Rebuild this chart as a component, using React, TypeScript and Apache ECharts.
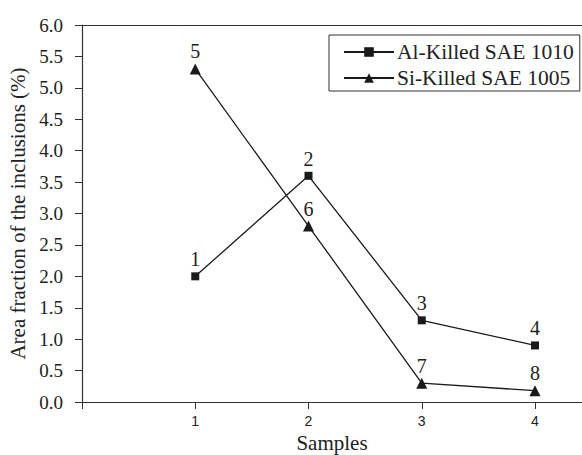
import React, { useEffect, useRef } from "react";
import * as echarts from "echarts";

const samples = [1, 2, 3, 4];
const alKilled = [2.0, 3.6, 1.3, 0.9];
const siKilled = [5.3, 2.8, 0.3, 0.18];
const alLabels = ["1", "2", "3", "4"];
const siLabels = ["5", "6", "7", "8"];
const xTicks = [0, 1, 2, 3, 4];
const xTickLabels = [1, 2, 3, 4];

const SERIF = "'Liberation Serif', 'Times New Roman', serif";
const SANS = "'Liberation Sans', Arial, sans-serif";
const INK = "#1a1a1a";

export default function App() {
  const ref = useRef<HTMLDivElement>(null);
  useEffect(() => {
    if (!ref.current) return;
    const chart = echarts.init(ref.current, undefined, { renderer: "svg" });
    const mk = (vals: number[], labels: string[]) =>
      samples.map((s, i) => ({ value: [s, vals[i]], label: { formatter: labels[i] } }));
    chart.setOption({
      animation: false,
      backgroundColor: "#ffffff",
      grid: { left: 82, right: 0, top: 25, bottom: 53, outerBoundsMode: "none", containLabel: false },
      legend: {
        orient: "vertical",
        left: 329,
        top: 35,
        width: 250,
        padding: [6, 6, 2, 14],
        itemGap: 4,
        itemWidth: 50,
        itemHeight: 12,
        borderColor: "#333",
        borderWidth: 1,
        textStyle: {
          fontFamily: SERIF,
          fontSize: 21.5,
          lineHeight: 21,
          color: "#222",
          padding: [0, 0, 0, -2],
        },
        data: ["Al-Killed SAE 1010", "Si-Killed SAE 1005"],
      },
      xAxis: [
        {
          type: "value",
          min: 0,
          max: 4.415,
          interval: 1,
          name: "Samples",
          nameLocation: "middle",
          nameGap: 29,
          nameTextStyle: { fontFamily: SERIF, fontSize: 21, color: "#222" },
          axisLine: { show: true, lineStyle: { color: "#333", width: 1.2 } },
          axisTick: { show: true, length: 7, customValues: xTicks, lineStyle: { color: "#333" } },
          axisLabel: {
            customValues: xTickLabels,
            margin: 12,
            fontFamily: SANS,
            fontSize: 14,
            color: "#222",
          },
          splitLine: { show: false },
        },
        {
          type: "value",
          position: "top",
          min: 0,
          max: 4.415,
          axisLine: { show: true, lineStyle: { color: "#333", width: 1.2 } },
          axisTick: { show: false },
          axisLabel: { show: false },
          splitLine: { show: false },
        },
      ],
      yAxis: {
        type: "value",
        min: 0,
        max: 6,
        interval: 0.5,
        name: "Area fraction of the inclusions (%)",
        nameLocation: "middle",
        nameGap: 46,
        nameTextStyle: { fontFamily: SERIF, fontSize: 21, color: "#222" },
        axisLine: { show: true, lineStyle: { color: "#333", width: 1.2 } },
        axisTick: { show: true, length: 7, lineStyle: { color: "#333" } },
        axisLabel: {
          margin: 19,
          fontFamily: SERIF,
          fontSize: 19,
          color: "#222",
          formatter: (v: number) => v.toFixed(1),
        },
        splitLine: { show: false },
      },
      series: [
        {
          name: "Al-Killed SAE 1010",
          type: "line",
          data: mk(alKilled, alLabels),
          symbol: "rect",
          symbolSize: 8,
          itemStyle: { color: INK },
          lineStyle: { color: INK, width: 1.3 },
          label: {
            show: true,
            position: "top",
            distance: 3,
            fontFamily: SERIF,
            fontSize: 20,
            color: "#222",
          },
        },
        {
          name: "Si-Killed SAE 1005",
          type: "line",
          data: mk(siKilled, siLabels),
          symbol: "triangle",
          symbolSize: 11,
          itemStyle: { color: INK },
          lineStyle: { color: INK, width: 1.3 },
          label: {
            show: true,
            position: "top",
            distance: 2,
            fontFamily: SERIF,
            fontSize: 20,
            color: "#222",
          },
        },
      ],
    });
    return () => chart.dispose();
  }, []);
  return (
    <div
      ref={ref}
      style={{ position: "fixed", left: 0, top: 0, width: 582, height: 455, background: "#fff" }}
    />
  );
}
